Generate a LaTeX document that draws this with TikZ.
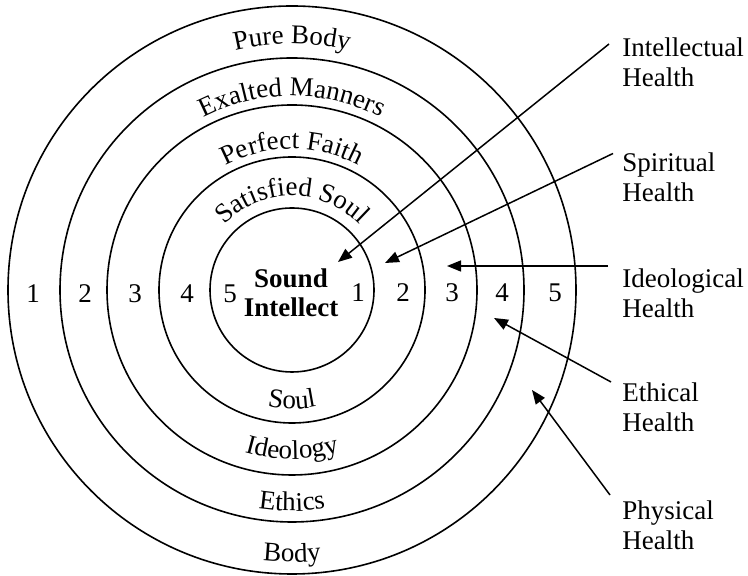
\documentclass[tikz,border=0pt]{standalone}
\usepackage{fontspec}
\setmainfont{Liberation Serif}
\usetikzlibrary{decorations.text,arrows.meta,calc}
\begin{document}
\begin{tikzpicture}[x=0.5pt,y=0.5pt,
  ring/.style={line width=0.8pt},
  arr/.style={line width=0.75pt,-{Triangle[length=7pt,width=5.5pt]}},
  num/.style={font=\fontsize{13.5}{16}\selectfont,inner sep=0pt},
  lab/.style={font=\fontsize{13.5}{15}\selectfont,align=left,anchor=west,inner sep=0pt},
  ctr/.style={font=\fontsize{13.5}{14.5}\selectfont\bfseries,align=center,inner sep=0pt},
  toptext/.style={decorate,decoration={text along path,text align=center,
     text={|\fontsize{13.5}{16}\selectfont|#1}}},
]
\useasboundingbox (0,0) rectangle (748,576);
\coordinate (c) at (292,286);
% circles
\draw[ring] (c) circle[radius=41pt];
\draw[ring] (c) circle[radius=66.5pt];
\draw[ring] (c) circle[radius=92.5pt];
\draw[ring] (c) circle[radius=116pt];
\draw[ring] (c) circle[radius=142pt];
% top curved labels
\path[toptext={Pure Body}] ($(c)+(170:123pt)$) arc[start angle=170,end angle=10,radius=123pt];
\path[toptext={Exalted Manners}] ($(c)+(170:97pt)$) arc[start angle=170,end angle=10,radius=97pt];
\path[toptext={Perfect Faith}] ($(c)+(170:70.5pt)$) arc[start angle=170,end angle=10,radius=70.5pt];
\path[toptext={Satisfied Soul}] ($(c)+(170:47pt)$) arc[start angle=170,end angle=10,radius=47pt];
% bottom curved labels
\path[toptext={Soul}] ($(c)+(190:59.5pt)$) arc[start angle=190,end angle=350,radius=59.5pt];
\path[toptext={Ideology}] ($(c)+(190:84.5pt)$) arc[start angle=190,end angle=350,radius=84.5pt];
\path[toptext={Ethics}] ($(c)+(190:110.5pt)$) arc[start angle=190,end angle=350,radius=110.5pt];
\path[toptext={Body}] ($(c)+(190:136pt)$) arc[start angle=190,end angle=350,radius=136pt];
% centre
\node[ctr] (si) at (291,283) {Sound\\Intellect};
% numbers left
\node[num] (l1) at (33,282) {1};
\node[num] (l2) at (85,282) {2};
\node[num] (l3) at (135,282) {3};
\node[num] (l4) at (187,282) {4};
\node[num] (l5) at (230,282) {5};
% numbers right
\node[num] (r1) at (358,283) {1};
\node[num] (r2) at (403,283) {2};
\node[num] (r3) at (452,283) {3};
\node[num] (r4) at (502,283) {4};
\node[num] (r5) at (555,283) {5};
% right labels
\node[lab] (hI) at (622,514) {Intellectual\\Health};
\node[lab] (hS) at (622,398.5) {Spiritual\\Health};
\node[lab] (hId) at (622,282.5) {Ideological\\Health};
\node[lab] (hE) at (622,169) {Ethical\\Health};
\node[lab] (hP) at (622,51) {Physical\\Health};
% arrow ends
\coordinate (sI) at ([shift={(-13,18)}]hI.west);
\coordinate (sS) at ([shift={(-9,24)}]hS.west);
\coordinate (sId) at ([shift={(-14,27.5)}]hId.west);
\coordinate (sE) at ([shift={(-11,25)}]hE.west);
\coordinate (sP) at ([shift={(-12,30)}]hP.west);
\coordinate (tI) at (338,314);
\coordinate (tS) at (385,313);
\coordinate (tId) at (447,310);
\coordinate (tE) at (494,258);
\coordinate (tP) at (532,186);
\draw[arr] (sI) -- (tI);
\draw[arr] (sS) -- (tS);
\draw[arr] (sId) -- (tId);
\draw[arr] (sE) -- (tE);
\draw[arr] (sP) -- (tP);
\end{tikzpicture}
\end{document}
